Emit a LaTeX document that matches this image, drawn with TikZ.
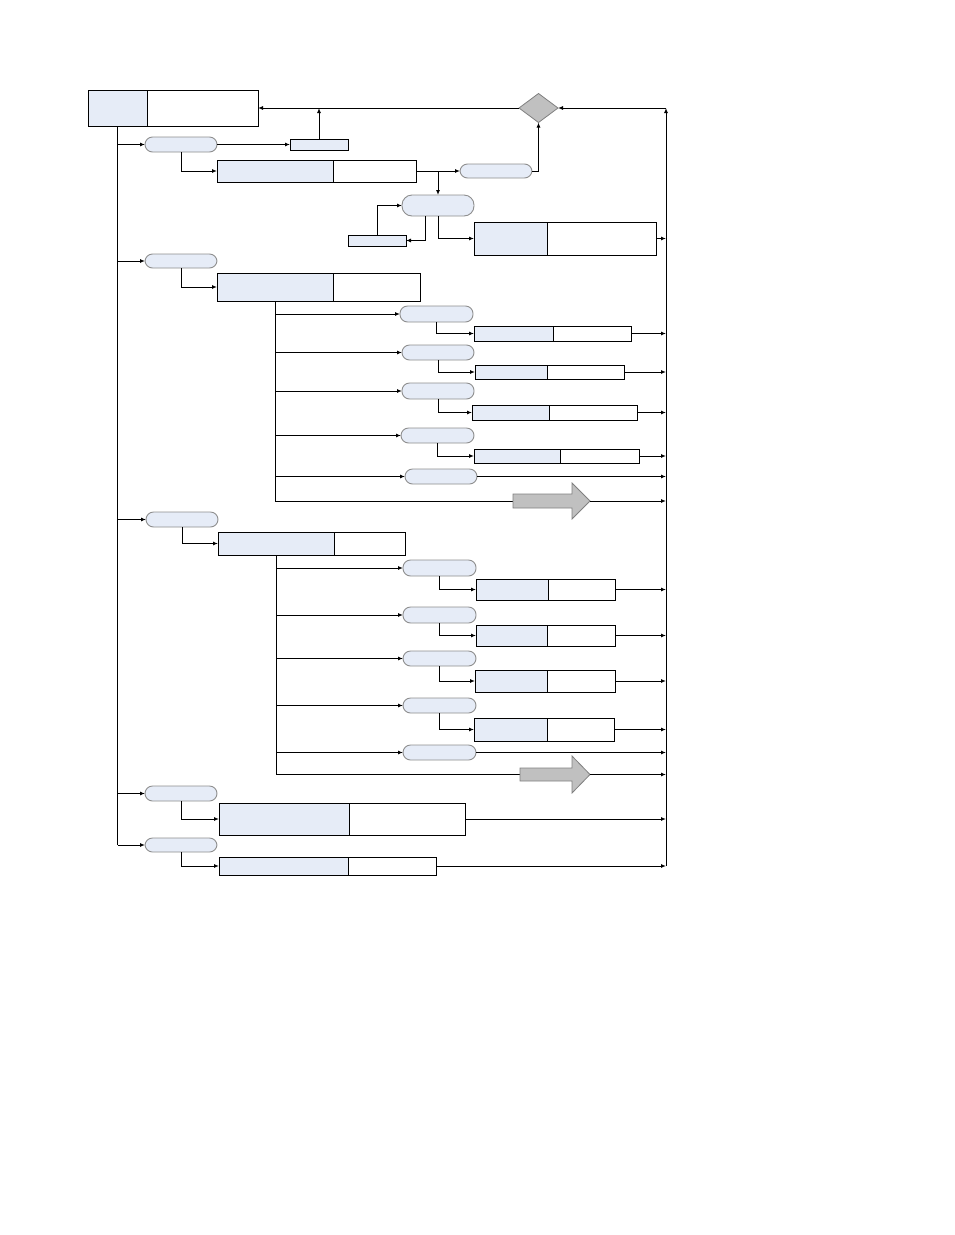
\documentclass[tikz,border=0pt]{standalone}
\usetikzlibrary{shapes.geometric,arrows.meta}
\definecolor{lb}{HTML}{E6ECF7}
\definecolor{pb}{HTML}{8E8E8E}
\definecolor{dg}{HTML}{C0C0C0}
\tikzset{
 ln/.style={line width=1pt, black},
 arr/.style={ln, -{Latex[length=5pt,width=4pt]}},
 fillbox/.style={draw, line width=1pt, fill=lb, inner sep=0pt, outer sep=0pt},
 whitebox/.style={draw, line width=1pt, fill=white, inner sep=0pt, outer sep=0pt},
 pillst/.style={draw=pb, line width=0.9pt, fill=lb, inner sep=0pt, outer sep=0pt, rounded corners=7.5pt},
 decis/.style={diamond, draw=gray, fill=dg, line width=0.8pt, inner sep=0pt, outer sep=0pt, minimum width=39pt, minimum height=29pt},
 bigarrow/.style={draw=gray, fill=dg, line width=0.8pt}
}
% name, x1, y1, xsplit, x2, y2
\newcommand\splitbx[6]{%
 \node[fillbox, minimum width={(#4-#2)*1pt}, minimum height={(#6-#3)*1pt}] (#1) at ({(#2+#4)/2},{(#3+#6)/2}) {};
 \node[whitebox, minimum width={(#5-#4)*1pt}, minimum height={(#6-#3)*1pt}] (#1r) at ({(#4+#5)/2},{(#3+#6)/2}) {};}
% [opt] name, x1, y1, x2, y2
\newcommand\pill[6][]{%
 \node[pillst, #1, minimum width={(#5-#3)*1pt}, minimum height={(#6-#4)*1pt}] (#2) at ({(#3+#5)/2},{(#4+#6)/2}) {};}
\begin{document}
\begin{tikzpicture}[x=1pt,y=-1pt]
\useasboundingbox[fill=white] (0,0) rectangle (954,1235);
\coordinate (bx) at (666,0);
% top
\splitbx{T}{88}{90}{147}{258}{126}
\node[decis] (dia) at (538.5,108) {};
\coordinate (bt) at (666,108);
\coordinate (bb) at (666,866);
\draw[arr] (bb) -- (bt);
\draw[arr] (bt) -- (dia.east);
\draw[arr] (dia.west) -- (Tr.east);
\node[fillbox, minimum width=58pt, minimum height=11pt] (s1) at (319,144.5) {};
\draw[arr] (s1.north) -- (s1.north |- Tr.east);
% section 1
\pill{p1}{145}{137}{217}{152}
\splitbx{A}{217}{160}{333}{416}{182}
\pill{p2}{460}{164}{532}{178}
\pill[rounded corners=10pt]{p3}{402}{195}{474}{216}
\node[fillbox, minimum width=58pt, minimum height=11pt] (s2) at (377,240.5) {};
\splitbx{B}{474}{222}{547}{656}{255}
\draw[arr] (T.south |- p1.west) -- (p1.west);
\draw[arr] (p1.east) -- (s1.west);
\draw[arr] (p1.south) |- (A.west);
\draw[arr] (Ar.east) -- (p2.west);
\draw[arr] (p3.north |- Ar.east) -- (p3.north);
\draw[arr] (p2.east) -| (dia.south);
\draw[arr] ([xshift=-13pt]p3.south) |- (s2.east);
\draw[arr] (s2.north) |- (p3.west);
\draw[arr] (p3.south) |- (B.west);
\draw[arr] (Br.east) -- (bx |- Br.east);
% section 2
\pill{q0}{145}{254}{217}{268}
\splitbx{C}{217}{273}{333}{420}{301}
\draw[arr] (T.south |- q0.west) -- (q0.west);
\draw[arr] (q0.south) |- (C.west);
\pill{qa}{400}{306}{473}{322}
\splitbx{Ca}{474}{326}{553}{631}{341}
\pill{qb}{402}{345}{474}{360}
\splitbx{Cb}{475}{365}{547}{624}{379}
\pill{qc}{402}{383}{474}{399}
\splitbx{Cc}{472}{405}{549}{637}{420}
\pill{qd}{401}{428}{474}{443}
\splitbx{Cd}{474}{449}{560}{639}{463}
\pill{qe}{405}{469}{477}{484}
\coordinate (a1t) at (513,501);
\coordinate (a1h) at (590,501);
\draw[ln] (C.south) -- (C.south |- a1t);
\foreach \p/\b in {qa/Ca,qb/Cb,qc/Cc,qd/Cd}{
 \draw[arr] (C.south |- \p.west) -- (\p.west);
 \draw[arr] (\p.south) |- (\b.west);
 \draw[arr] (\b r.east) -- (bx |- \b r.east);
}
\draw[arr] (C.south |- qe.west) -- (qe.west);
\draw[arr] (qe.east) -- (bx |- qe.east);
\draw[ln] (C.south |- a1t) -- (a1t);
\draw[bigarrow] (513,494) -- (572,494) -- (572,483) -- (a1h) -- (572,519) -- (572,508) -- (513,508) -- cycle;
\draw[arr] (a1h) -- (bx |- a1h);
% section 3
\pill{r0}{146}{512}{218}{527}
\splitbx{D}{218}{532}{334}{405}{555}
\draw[arr] (T.south |- r0.west) -- (r0.west);
\draw[arr] (r0.south) |- (D.west);
\pill{ra}{403}{560}{476}{576}
\splitbx{Da}{476}{579}{548}{615}{600}
\pill{rb}{403}{607}{476}{623}
\splitbx{Db}{476}{625}{547}{615}{646}
\pill{rc}{403}{651}{476}{666}
\splitbx{Dc}{475}{670}{547}{615}{692}
\pill{rd}{403}{698}{476}{713}
\splitbx{Dd}{474}{718}{547}{614}{741}
\pill{re}{403}{745}{476}{760}
\coordinate (a2t) at (520,774.5);
\coordinate (a2h) at (590,774.5);
\draw[ln] (D.south) -- (D.south |- a2t);
\foreach \p/\b in {ra/Da,rb/Db,rc/Dc,rd/Dd}{
 \draw[arr] (D.south |- \p.west) -- (\p.west);
 \draw[arr] (\p.south) |- (\b.west);
 \draw[arr] (\b r.east) -- (bx |- \b r.east);
}
\draw[arr] (D.south |- re.west) -- (re.west);
\draw[arr] (re.east) -- (bx |- re.east);
\draw[ln] (D.south |- a2t) -- (a2t);
\draw[bigarrow] (520,768) -- (572,768) -- (572,756) -- (a2h) -- (572,793) -- (572,781) -- (520,781) -- cycle;
\draw[arr] (a2h) -- (bx |- a2h);
% section 4
\pill{u0}{145}{786}{217}{801}
\splitbx{E}{219}{803}{349}{465}{835}
\draw[arr] (T.south |- u0.west) -- (u0.west);
\draw[arr] (u0.south) |- (E.west);
\draw[arr] (Er.east) -- (bx |- Er.east);
\pill{v0}{145}{838}{217}{852}
\splitbx{F}{219}{857}{348}{436}{875}
\draw[arr] (T.south |- v0.west) -- (v0.west);
\draw[arr] (v0.south) |- (F.west);
\draw[arr] (Fr.east) -- (bx |- Fr.east);
% left bus
\draw[ln] (T.south) -- (T.south |- v0.west);
\end{tikzpicture}
\end{document}
